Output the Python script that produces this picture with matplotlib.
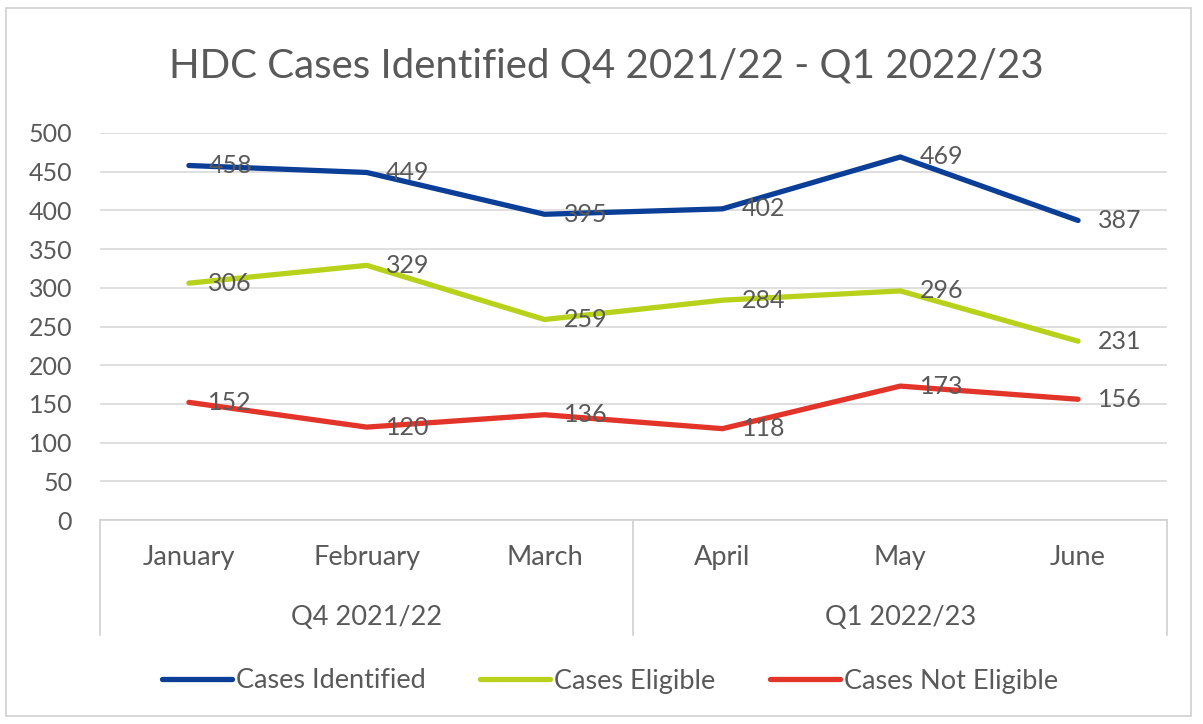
import matplotlib.pyplot as plt
from matplotlib.patches import Rectangle

months = ["January", "February", "March", "April", "May", "June"]
quarters = ["Q4 2021/22", "Q1 2022/23"]
identified = [458, 449, 395, 402, 469, 387]
eligible = [306, 329, 259, 284, 296, 231]
not_eligible = [152, 120, 136, 118, 173, 156]

plt.rcParams['font.family'] = ['Lato', 'DejaVu Sans']
grey = '#595959'
fs = 18
fs_cat = 19.5

fig = plt.figure(figsize=(12.03, 7.24), dpi=100)
fig.patches.append(Rectangle((6 / 1203, 8 / 724), 1185 / 1203, 708 / 724, transform=fig.transFigure,
                             fill=False, edgecolor='#d0d0d0', linewidth=1.2))
ax = fig.add_axes([100 / 1203, (724 - 520) / 724, 1067 / 1203, 387 / 724])

x = range(len(months))
series = [("Cases Identified", identified, '#0b3e97'),
          ("Cases Eligible", eligible, '#b8d21c'),
          ("Cases Not Eligible", not_eligible, '#e3342a')]
for name, vals, col in series:
    ax.plot(x, vals, color=col, linewidth=3.8, label=name, solid_capstyle='round')
    for i, v in zip(x, vals):
        ax.annotate(str(v), (i, v), xytext=(14, 0), textcoords='offset points',
                    va='center', ha='left', fontsize=fs, color=grey)

ax.set_xlim(-0.5, 5.5)
ax.set_ylim(0, 500)
ax.set_yticks(range(0, 501, 50))
ax.grid(axis='y', color='#d9d9d9', linewidth=1.2)
ax.set_axisbelow(True)
for s in ['top', 'right', 'left']:
    ax.spines[s].set_visible(False)
ax.spines['bottom'].set_color('#d0d0d0')
ax.spines['bottom'].set_linewidth(1.2)
ax.tick_params(axis='y', length=0, pad=20, labelsize=fs, labelcolor=grey)
ax.set_xticks([])

# two-level category axis
tr = ax.get_xaxis_transform()
for i, m in enumerate(months):
    ax.text(i, -0.098, m, transform=tr, ha='center', va='center', fontsize=fs_cat, color=grey)
for j, q in enumerate(quarters):
    ax.text(3 * j + 1, -0.253, q, transform=tr, ha='center', va='center', fontsize=fs_cat, color=grey)
for xv in [-0.5, 2.5, 5.5]:
    ax.plot([xv, xv], [0, -0.297], transform=tr, color='#d0d0d0', linewidth=1.2, clip_on=False)

fig.text(606 / 1203, 1 - 66 / 724, "HDC Cases Identified Q4 2021/22 - Q1 2022/23",
         ha='center', va='center', fontsize=29, color=grey)

fig.legend(loc='center', bbox_to_anchor=(610 / 1203, 1 - 681 / 724), ncol=3, frameon=False,
           fontsize=fs_cat, labelcolor=grey, handlelength=2.6, handletextpad=0.15, columnspacing=2.0)

fig.savefig("out.png", dpi=100)
